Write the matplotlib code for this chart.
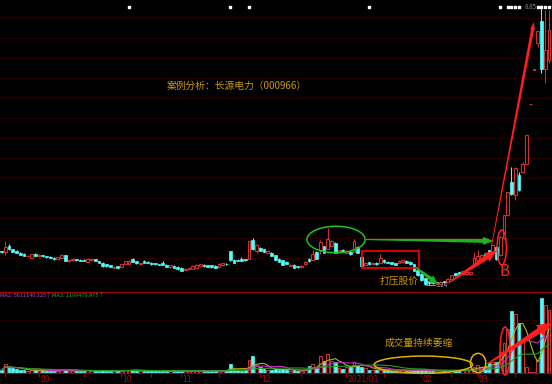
import numpy as np
import pandas as pd
import matplotlib
matplotlib.use('Agg')
import matplotlib.pyplot as plt
from matplotlib.patches import Ellipse, Rectangle, Polygon
from matplotlib.transforms import IdentityTransform

plt.rcParams['font.family'] = ['Noto Sans CJK SC', 'DejaVu Sans']

# daily candles, 长源电力 (000966), Aug 2020 - Mar 2021
opens = [3.92, 3.91, 4.03, 3.96, 3.93, 3.89, 3.87, 3.82, 3.79, 3.87,
         3.82, 3.84, 3.82, 3.81, 3.79, 3.76, 3.79, 3.84, 3.72, 3.74,
         3.76, 3.75, 3.75, 3.71, 3.74, 3.76, 3.72, 3.69, 3.66, 3.64,
         3.59, 3.62, 3.61, 3.67, 3.67, 3.77, 3.72, 3.66, 3.73, 3.71,
         3.69, 3.68, 3.66, 3.69, 3.65, 3.60, 3.63, 3.61, 3.59, 3.55,
         3.57, 3.57, 3.59, 3.63, 3.65, 3.64, 3.64, 3.63, 3.60, 3.64,
         3.67, 3.91, 3.75, 3.75, 3.77, 3.76, 3.77, 4.14, 3.92, 3.99,
         3.96, 3.89, 3.89, 3.84, 3.77, 3.74, 3.71, 3.63, 3.65, 3.62,
         3.60, 3.66, 3.77, 3.75, 3.91, 3.94, 4.02, 3.97, 4.02, 4.09,
         3.91, 3.95, 3.89, 3.91, 3.91, 4.01, 3.81, 3.65, 3.70, 3.66,
         3.69, 3.69, 3.75, 3.71, 3.70, 3.68, 3.69, 3.70, 3.73, 3.71,
         3.66, 3.55, 3.47, 3.38, 3.32, 3.31, 3.28, 3.27, 3.32, 3.31,
         3.36, 3.48, 3.50, 3.47, 3.46, 3.46, 3.66, 3.74, 3.78, 3.87,
         3.94, 3.91, 4.01, 3.84, 4.18, 4.64, 5.30, 5.04, 5.44, 5.51,
         5.67, 6.86, 7.55, 8.08, 8.53, 7.57, 7.75]
closes = [3.90, 4.01, 3.96, 3.91, 3.89, 3.85, 3.83, 3.83, 3.86, 3.83,
          3.85, 3.82, 3.80, 3.79, 3.76, 3.80, 3.85, 3.73, 3.75, 3.77,
          3.74, 3.73, 3.73, 3.77, 3.76, 3.73, 3.69, 3.62, 3.62, 3.61,
          3.61, 3.59, 3.66, 3.72, 3.73, 3.71, 3.68, 3.68, 3.69, 3.69,
          3.66, 3.66, 3.65, 3.65, 3.61, 3.64, 3.59, 3.56, 3.53, 3.57,
          3.59, 3.63, 3.65, 3.66, 3.62, 3.61, 3.60, 3.59, 3.67, 3.68,
          3.66, 3.74, 3.69, 3.73, 3.73, 3.74, 4.12, 3.96, 4.03, 3.93,
          3.91, 3.93, 3.83, 3.75, 3.71, 3.65, 3.67, 3.65, 3.59, 3.60,
          3.63, 3.71, 3.72, 3.87, 3.77, 4.11, 3.89, 4.17, 4.13, 3.89,
          3.94, 3.92, 3.93, 3.86, 4.13, 3.89, 3.63, 3.69, 3.66, 3.69,
          3.66, 3.79, 3.70, 3.69, 3.67, 3.65, 3.73, 3.74, 3.69, 3.66,
          3.53, 3.44, 3.34, 3.26, 3.28, 3.28, 3.30, 3.31, 3.30, 3.37,
          3.44, 3.44, 3.47, 3.52, 3.50, 3.50, 3.78, 3.82, 3.84, 3.84,
          3.87, 4.04, 3.77, 4.21, 4.64, 5.10, 5.07, 5.58, 5.14, 5.67,
          6.24, 6.86, 7.55, 8.31, 7.57, 7.95, 8.35]
highs = [3.93, 4.13, 4.06, 3.97, 3.94, 3.90, 3.88, 3.85, 3.87, 3.88,
         3.86, 3.85, 3.83, 3.82, 3.80, 3.81, 3.87, 3.85, 3.76, 3.78,
         3.77, 3.76, 3.76, 3.78, 3.77, 3.77, 3.73, 3.70, 3.67, 3.65,
         3.62, 3.63, 3.67, 3.73, 3.75, 3.79, 3.73, 3.69, 3.74, 3.72,
         3.70, 3.69, 3.67, 3.72, 3.66, 3.65, 3.64, 3.62, 3.60, 3.58,
         3.60, 3.64, 3.66, 3.67, 3.66, 3.65, 3.65, 3.64, 3.68, 3.69,
         3.68, 3.93, 3.77, 3.76, 3.80, 3.77, 4.13, 4.18, 4.06, 4.00,
         3.97, 3.94, 3.90, 3.85, 3.78, 3.75, 3.72, 3.66, 3.66, 3.63,
         3.64, 3.72, 3.78, 3.94, 3.92, 4.14, 4.03, 4.39, 4.14, 4.10,
         3.95, 3.96, 3.94, 3.92, 4.17, 4.02, 3.82, 3.70, 3.71, 3.70,
         3.70, 3.86, 3.76, 3.72, 3.71, 3.69, 3.74, 3.75, 3.74, 3.72,
         3.67, 3.56, 3.48, 3.39, 3.33, 3.32, 3.31, 3.32, 3.33, 3.38,
         3.45, 3.49, 3.51, 3.53, 3.54, 3.52, 3.90, 3.94, 3.86, 3.88,
         3.95, 4.05, 4.02, 4.22, 4.64, 5.10, 5.60, 5.60, 5.50, 5.70,
         6.24, 6.86, 7.55, 8.31, 8.85, 8.74, 8.74]
lows = [3.89, 3.85, 3.95, 3.90, 3.88, 3.84, 3.82, 3.80, 3.78, 3.82,
        3.81, 3.81, 3.79, 3.78, 3.75, 3.75, 3.78, 3.72, 3.71, 3.73,
        3.73, 3.72, 3.72, 3.70, 3.73, 3.72, 3.68, 3.61, 3.61, 3.60,
        3.58, 3.58, 3.60, 3.66, 3.66, 3.70, 3.67, 3.65, 3.68, 3.68,
        3.65, 3.65, 3.64, 3.64, 3.60, 3.59, 3.58, 3.55, 3.52, 3.54,
        3.56, 3.56, 3.58, 3.62, 3.61, 3.60, 3.59, 3.58, 3.59, 3.63,
        3.65, 3.73, 3.68, 3.72, 3.72, 3.73, 3.76, 3.95, 3.88, 3.92,
        3.90, 3.88, 3.82, 3.74, 3.70, 3.64, 3.66, 3.62, 3.58, 3.59,
        3.59, 3.65, 3.71, 3.74, 3.76, 3.87, 3.88, 3.96, 4.01, 3.88,
        3.90, 3.91, 3.88, 3.85, 3.90, 3.88, 3.62, 3.64, 3.65, 3.65,
        3.65, 3.68, 3.69, 3.68, 3.66, 3.64, 3.68, 3.69, 3.68, 3.65,
        3.52, 3.43, 3.33, 3.24, 3.25, 3.27, 3.27, 3.26, 3.29, 3.30,
        3.35, 3.43, 3.46, 3.46, 3.45, 3.45, 3.64, 3.73, 3.77, 3.83,
        3.86, 3.90, 3.74, 3.83, 4.16, 4.62, 5.04, 4.94, 5.12, 5.49,
        5.66, 6.86, 7.55, 8.00, 7.48, 7.28, 7.68]
volumes = [30, 90, 60, 50, 40, 30, 30, 20, 30, 30,
           25, 20, 25, 20, 25, 20, 30, 35, 20, 25,
           20, 20, 25, 30, 20, 20, 25, 30, 25, 20,
           20, 20, 25, 30, 30, 35, 25, 20, 25, 20,
           20, 20, 20, 25, 20, 20, 20, 25, 25, 20,
           20, 25, 25, 20, 20, 20, 20, 20, 25, 25,
           30, 90, 40, 30, 25, 30, 130, 170, 80, 60,
           40, 35, 30, 40, 30, 40, 30, 25, 30, 25,
           25, 35, 70, 90, 63, 170, 123, 190, 123, 113,
           50, 40, 57, 63, 113, 80, 63, 50, 35, 30,
           30, 35, 30, 30, 25, 25, 30, 30, 25, 25,
           30, 30, 35, 30, 25, 20, 20, 25, 20, 25,
           30, 25, 25, 30, 35, 35, 63, 80, 63, 57,
           97, 113, 110, 210, 300, 440, 620, 590, 500, 330,
           60, 15, 15, 130, 750, 680, 630]

month_labels = ['09', '10', '11', '12', '2021/01', '02', '03']
month_idx = [10, 32, 48, 69, 92, 112, 127]
minor_idx = [1, 22, 40, 58, 80, 102, 120, 137]
info_idx = [34, 61, 66, 98, 133, 135, 136, 137, 138, 143, 144, 145, 146]
low_text = '3.24'
high_text = '8.85'
ma_text = ['MA2: 5611146.125\u2191,', 'MA3: 1199479.875\u2191']

UP = '#c83232'
DOWN = '#54fcfc'
GOLD = '#cc9900'
GRID = '#2c0000'
BORDER = '#a00000'

fig = plt.figure(figsize=(5.52, 3.84), dpi=100, facecolor='black')
ax = fig.add_axes([0, 92 / 384, 1, 292 / 384])
axv = fig.add_axes([0, 11 / 384, 1, 80 / 384])
for a in (ax, axv):
    a.set_facecolor('black')
    a.set_xlim(-0.4, 146.8)
    for s in a.spines.values():
        s.set_visible(False)
    a.spines['bottom'].set_visible(True)
    a.spines['bottom'].set_color(BORDER)
    a.set_yticks([])
ax.set_xticks([])
ax.set_ylim(3.10, 8.94)
axv.set_ylim(0, 800)

for g in np.arange(3.38, 8.7, 0.4):
    ax.axhline(g, color=GRID, lw=0.6, zorder=0)
axv.axhline(530, color=GRID, lw=0.6, zorder=0)

o = np.array(opens)
c = np.array(closes)
h = np.array(highs)
l = np.array(lows)
v = np.array(volumes)
x = np.arange(len(o))
up = c >= o
lo = np.minimum(o, c)
hh = np.maximum(np.abs(c - o), 0.008)

# price candles
ax.vlines(x[up], l[up], h[up], color=UP, lw=0.8, zorder=1)
ax.vlines(x[~up], l[~up], h[~up], color=DOWN, lw=0.8, zorder=1)
ax.bar(x[up], hh[up], bottom=lo[up], width=0.72, facecolor='black',
       edgecolor=UP, lw=0.8, zorder=2)
ax.bar(x[~up], hh[~up], bottom=lo[~up], width=0.72, facecolor=DOWN,
       edgecolor=DOWN, lw=0.5, zorder=2)

# volume bars and moving averages
axv.bar(x[up], v[up], width=0.72, facecolor='black', edgecolor=UP, lw=0.8, zorder=2)
axv.bar(x[~up], v[~up], width=0.72, facecolor=DOWN, edgecolor=DOWN, lw=0.5, zorder=2)
vs = pd.Series(v, dtype=float)
axv.plot(x, vs.rolling(5, min_periods=1).mean(), color='#b4b41e', lw=0.8, zorder=3)
axv.plot(x, vs.rolling(10, min_periods=1).mean(), color='#c030c0', lw=0.8, zorder=3)
axv.plot(x, vs.rolling(20, min_periods=1).mean(), color='#1ea01e', lw=0.8, zorder=3)

# date axis: ticks below the volume panel, labels to the right of each tick
axv.set_xticks(month_idx)
axv.set_xticklabels([])
axv.set_xticks(minor_idx, minor=True)
axv.tick_params(axis='x', which='both', direction='out', length=3, width=0.8,
                color=BORDER)
for lab, pos in zip(month_labels, month_idx):
    axv.text(pos + 0.3, -0.025, lab, transform=axv.get_xaxis_transform(),
             color='#c00000', fontsize=5.5, ha='left', va='top', family='DejaVu Sans')

# info markers and extremes
ax.scatter(info_idx, [8.80] * len(info_idx), marker='s', s=3, color='white', zorder=4)
ax.plot([113.3, 115.6], [3.24, 3.24], color='#aaaaaa', lw=0.6, zorder=4)
ax.text(115.7, 3.24, low_text, color='#aaaaaa', fontsize=4.5, va='center', ha='left', zorder=4)
ax.text(142.8, 8.80, high_text, color='#888888', fontsize=4.5, va='center', ha='right', zorder=4)

axv.text(0.0, 0.975, ma_text[0], transform=axv.transAxes, color='#c040c0',
         fontsize=4, va='center', ha='left')
axv.text(0.094, 0.975, ma_text[1], transform=axv.transAxes, color='#20b020',
         fontsize=4, va='center', ha='left')

# annotations
ax.text(44.1, 7.22, '案例分析：长源电力（000966）', color=GOLD, fontsize=7,
        ha='left', va='center')
ax.text(105.9, 3.33, '打压股价', color=GOLD, fontsize=7, ha='center', va='center')
ax.text(134.1, 3.52, 'B', color='#ff2020', fontsize=11, ha='center', va='center')
axv.text(111.3, 305, '成交量持续萎缩', color=GOLD, fontsize=7, ha='center', va='center')

ax.add_patch(Ellipse((89.2, 4.15), 15.5, 0.53, fill=False, edgecolor='#20c020', lw=1.1, zorder=5))
ax.add_patch(Rectangle((96.1, 3.59), 15.3, 0.34, fill=False, edgecolor='#ff0000', lw=1.2, zorder=5))
ax.add_patch(Ellipse((133.4, 3.99), 2.5, 0.70, fill=False, edgecolor='#ff2020', lw=1.1, zorder=5))
axv.add_patch(Ellipse((112.5, 83), 26.2, 173, fill=False, edgecolor='#e0b000', lw=1.1,
                      zorder=5, clip_on=False))
axv.add_patch(Ellipse((127.1, 100), 4.1, 193, fill=False, edgecolor='#e0b000', lw=1.1,
                      zorder=5, clip_on=False))
axv.add_patch(Ellipse((134.3, 220), 2.7, 480, fill=False, edgecolor='#ff2020', lw=1.1,
                      zorder=5, clip_on=False))


def taper_arrow(a, p0, p1, color, w0, w1, hw, hl):
    P0 = a.transData.transform(p0)
    P1 = a.transData.transform(p1)
    d = P1 - P0
    u = d / np.hypot(*d)
    n = np.array([-u[1], u[0]])
    q = P1 - u * hl
    pts = [P0 + n * w0 / 2, q + n * w1 / 2, q + n * hw / 2, P1,
           q - n * hw / 2, q - n * w1 / 2, P0 - n * w0 / 2]
    fig.add_artist(Polygon(pts, closed=True, transform=IdentityTransform(),
                           facecolor=color, edgecolor='none', zorder=6))


taper_arrow(ax, (97.2, 4.15), (131.3, 4.12), '#20b020', 1.2, 4, 8, 11)
taper_arrow(ax, (110.3, 3.60), (116.4, 3.26), '#20b020', 1.2, 4, 8, 9)
taper_arrow(ax, (119.6, 3.30), (132.1, 3.93), '#ff1e1e', 1.2, 5, 10, 12)
taper_arrow(ax, (130.7, 4.04), (142.0, 8.50), '#ff1e1e', 0.8, 3, 5, 8)
taper_arrow(axv, (129.5, 90), (146.6, 500), '#ff1e1e', 1.2, 6, 13, 14)

fig.savefig('out.png', dpi=100, facecolor='black')
